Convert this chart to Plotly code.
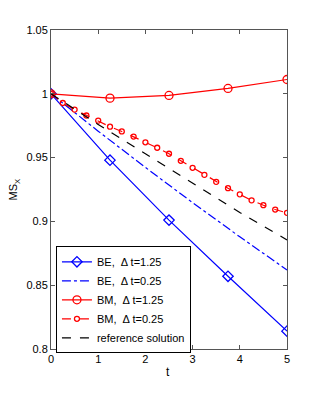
import plotly.graph_objects as go

t_coarse = [0, 1.25, 2.5, 3.75, 5]
t_fine = [0, 0.25, 0.5, 0.75, 1, 1.25, 1.5, 1.75, 2, 2.25, 2.5, 2.75, 3, 3.25,
          3.5, 3.75, 4, 4.25, 4.5, 4.75, 5]
t_unit = [0, 1, 2, 3, 4, 5]

be_coarse = [1.0, 0.948, 0.901, 0.857, 0.814]
be_fine = [1.0, 0.9707, 0.9423, 0.9147, 0.8879, 0.862]
bm_coarse = [1.0, 0.9966, 0.9987, 1.0042, 1.0112]
bm_fine = [1.0, 0.9928, 0.9876, 0.9830, 0.9790, 0.9742, 0.9705, 0.9665, 0.9620,
           0.9577, 0.9530, 0.9475, 0.9420, 0.9365, 0.9310, 0.9260, 0.9212,
           0.9165, 0.9127, 0.9093, 0.9067]
ref_sol = [1.0, 0.976, 0.953, 0.930, 0.907, 0.8855]

x_ticks = [0, 1, 2, 3, 4, 5]
y_ticks = [0.8, 0.85, 0.9, 0.95, 1.0, 1.05]
y_ticktext = ["0.8", "0.85", "0.9", "0.95", "1", "1.05"]

FONT = "Liberation Sans, Arial"

fig = go.Figure()
fig.add_trace(go.Scatter(x=t_coarse, y=be_coarse, mode="lines+markers",
                         name="BE,  \u0394 t=1.25",
                         line=dict(color="#0000ff", width=1.2),
                         marker=dict(symbol="diamond-open", size=8, color="#0000ff",
                                     line=dict(width=1.3))))
fig.add_trace(go.Scatter(x=t_unit, y=be_fine, mode="lines",
                         name="BE,  \u0394 t=0.25",
                         line=dict(color="#0000ff", width=1.2, dash="dashdot")))
fig.add_trace(go.Scatter(x=t_coarse, y=bm_coarse, mode="lines+markers",
                         name="BM,  \u0394 t=1.25",
                         line=dict(color="#ff0000", width=1.2),
                         marker=dict(symbol="circle-open", size=8, color="#ff0000",
                                     line=dict(width=1.3))))
fig.add_trace(go.Scatter(x=t_fine, y=bm_fine, mode="lines+markers",
                         name="BM,  \u0394 t=0.25",
                         line=dict(color="#ff0000", width=1.2, dash="dash"),
                         marker=dict(symbol="circle-open", size=5, color="#ff0000",
                                     line=dict(width=1.3))))
fig.add_trace(go.Scatter(x=t_unit, y=ref_sol, mode="lines",
                         name="reference solution",
                         line=dict(color="#000000", width=1.2, dash="dash")))

axis_common = dict(showline=True, mirror="ticks", linecolor="#555555", linewidth=1,
                   ticks="inside", ticklen=4, tickcolor="#555555",
                   showgrid=False, zeroline=False, automargin=False,
                   tickfont=dict(family=FONT, size=11, color="#000"))

fig.update_xaxes(range=[0, 5], tickvals=x_ticks, **axis_common)
fig.update_yaxes(range=[0.8, 1.05], tickvals=y_ticks, ticktext=y_ticktext, **axis_common)

fig.add_annotation(text="t", xref="paper", yref="paper", x=0.496, y=-0.071,
                   xanchor="center", yanchor="middle", showarrow=False,
                   font=dict(family=FONT, size=12, color="#000"))
fig.add_annotation(text="MS<sub>X</sub>", xref="paper", yref="paper", x=-0.157, y=0.5,
                   xanchor="center", yanchor="middle", showarrow=False, textangle=-90,
                   font=dict(family=FONT, size=11, color="#000"))

fig.update_layout(
    width=316, height=393,
    margin=dict(l=43, r=37, t=22, b=52),
    paper_bgcolor="white", plot_bgcolor="white",
    showlegend=True,
    legend=dict(x=0.021, y=0.322, xanchor="left", yanchor="top",
                bgcolor="white", bordercolor="#000", borderwidth=1,
                font=dict(family=FONT, size=11, color="#000"),
                tracegroupgap=0, itemwidth=30),
)

fig.write_html("out.html")
